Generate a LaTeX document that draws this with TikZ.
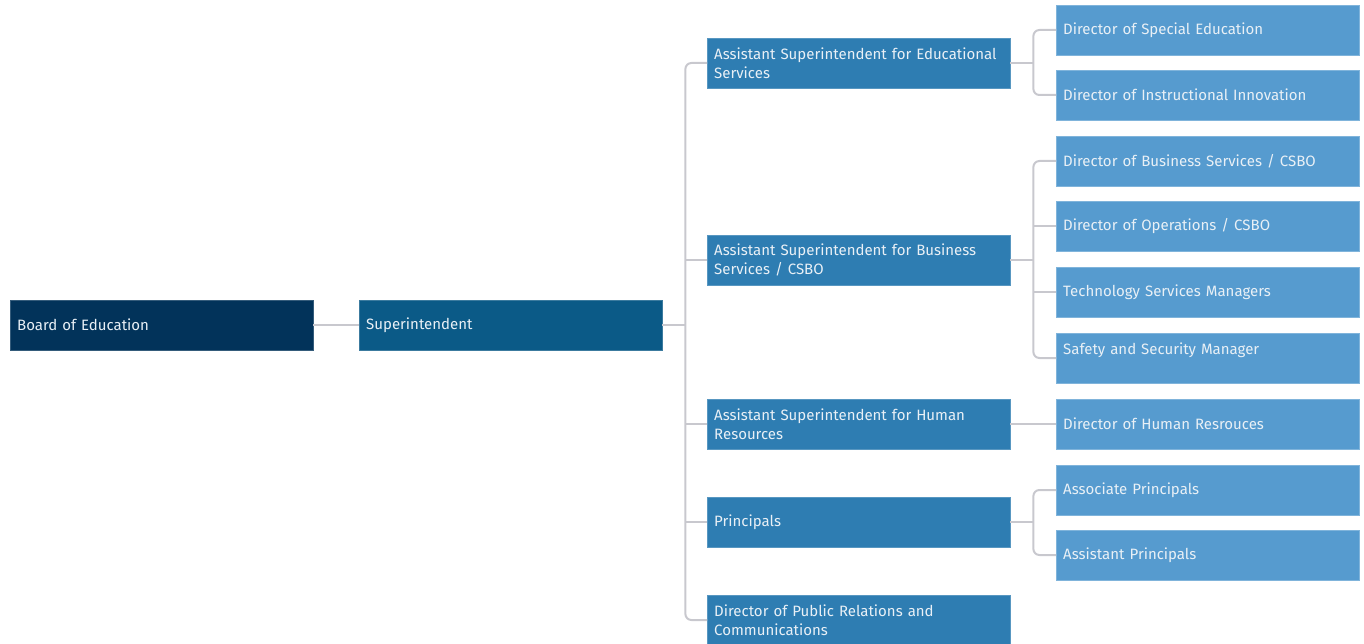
\documentclass[tikz,border=0pt]{standalone}
\usepackage{fontspec}
\setmainfont{Fira Sans}
\usetikzlibrary{positioning}
\definecolor{boardblue}{HTML}{02335A}
\definecolor{supblue}{HTML}{0B5A87}
\definecolor{asstblue}{HTML}{2E7DB2}
\definecolor{dirblue}{HTML}{569BCF}
\definecolor{linkgray}{HTML}{C8C8CE}
\definecolor{boxtext}{HTML}{E9F0F6}

\begin{document}
\begin{tikzpicture}[
    x=1pt, y=-1pt,
    orgbox/.style = {rectangle, anchor=west,
                     minimum width=303pt, minimum height=50pt,
                     inner xsep=7pt, inner ysep=0pt,
                     text width=289pt, align=left,
                     font=\fontsize{15}{19}\selectfont, text=boxtext},
    boardbox/.style = {orgbox, fill=boardblue, draw=boardblue!80!white},
    supbox/.style = {orgbox, fill=supblue, draw=supblue!80!white},
    asstbox/.style = {orgbox, fill=asstblue, draw=asstblue!80!white},
    dirbox/.style = {orgbox, fill=dirblue, draw=dirblue!75!white},
    link/.style = {draw=linkgray, line width=2pt, rounded corners=6pt}
]
    \useasboundingbox (0,0) rectangle (1364,644);

    % top levels
    \node[boardbox] (board) at (10,325) {Board of Education};
    \node[supbox] (sup) at (359,325) {Superintendent};

    % assistant superintendents and others
    \node[asstbox] (ase) at (707,63) {Assistant Superintendent for Educational\\Services};
    \node[asstbox] (asb) at (707,260) {Assistant Superintendent for Business\\Services / CSBO};
    \node[asstbox] (ash) at (707,424) {Assistant Superintendent for Human\\Resources};
    \node[asstbox] (pri) at (707,522) {Principals};
    \node[asstbox] (dpr) at (707,620) {Director of Public Relations and\\Communications};

    % directors and managers
    \node[dirbox] (dse) at (1056,30) {Director of Special Education};
    \node[dirbox] (dii) at (1056,95) {Director of Instructional Innovation};
    \node[dirbox] (dbs) at (1056,161) {Director of Business Services / CSBO};
    \node[dirbox] (dop) at (1056,226) {Director of Operations / CSBO};
    \node[dirbox] (tsm) at (1056,292) {Technology Services Managers};
    \node[dirbox] (ssm) at (1056,358) {Safety and Security Manager\\\mbox{}};
    \node[dirbox] (dhr) at (1056,424) {Director of Human Resrouces};
    \node[dirbox] (apr) at (1056,490) {Associate Principals};
    \node[dirbox] (asp) at (1056,555) {Assistant Principals};

    % junction points
    \coordinate (jsup) at ([xshift=23pt]sup.east);
    \coordinate (jase) at ([xshift=23pt]ase.east);
    \coordinate (jasb) at ([xshift=23pt]asb.east);
    \coordinate (jpri) at ([xshift=23pt]pri.east);

    % connectors
    \draw[link] (board) -- (sup);
    \draw[link] (sup.east) -- (jsup);
    \draw[link] (ase.west) -| (jsup |- dpr.west) -- (dpr.west);
    \foreach \n in {asb, ash, pri}
        \draw[link] (jsup |- \n.west) -- (\n.west);

    \draw[link] (ase.east) -- (jase);
    \draw[link] (dse.west) -| (jase |- dii.west) -- (dii.west);

    \draw[link] (asb.east) -- (jasb);
    \draw[link] (dbs.west) -| (jasb |- ssm.west) -- (ssm.west);
    \foreach \n in {dop, tsm}
        \draw[link] (jasb |- \n.west) -- (\n.west);

    \draw[link] (ash.east) -- (dhr.west);

    \draw[link] (pri.east) -- (jpri);
    \draw[link] (apr.west) -| (jpri |- asp.west) -- (asp.west);

\end{tikzpicture}
\end{document}
